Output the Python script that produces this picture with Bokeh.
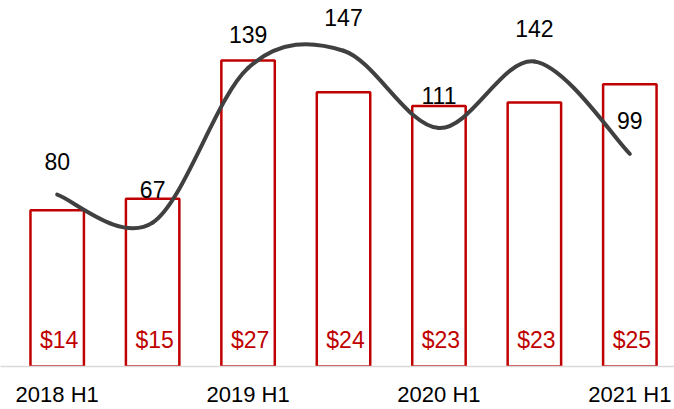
from bokeh.plotting import figure
from bokeh.models import Range1d, FixedTicker, ColumnDataSource
from bokeh.core.properties import value
from bokeh.embed import file_html
from bokeh.resources import INLINE

# ---- data ----
categories = ["2018 H1", "2018 H2", "2019 H1", "2019 H2", "2020 H1", "2020 H2", "2021 H1"]
revenue = [13.8, 14.8, 27.0, 24.2, 23.0, 23.3, 24.9]
count = [80, 67, 139, 147, 111, 142, 99]
shown_ticks = [0, 2, 4, 6]

FONT = "Liberation Sans"
RED = "#C00000"
GREY = "#404040"

xs = list(range(len(categories)))
rev_labels = ["$%.0f" % v for v in revenue]
cnt_labels = [str(v) for v in count]

p = figure(width=674, height=409, output_backend="svg", toolbar_location=None,
           x_range=Range1d(-0.594, 6.468), y_range=Range1d(0, 32.3),
           min_border_left=0, min_border_right=0, min_border_top=0, min_border_bottom=40,
           background_fill_color="white", border_fill_color="white")
p.extra_y_ranges = {"line": Range1d(0, 170.4)}
p.outline_line_color = None
p.xgrid.visible = False
p.ygrid.visible = False
p.yaxis.visible = False

ax = p.xaxis[0]
ax.ticker = FixedTicker(ticks=shown_ticks)
ax.major_label_overrides = {i: categories[i] for i in shown_ticks}
ax.major_tick_line_color = None
ax.minor_tick_line_color = None
ax.axis_line_color = "#d9d9d9"
ax.axis_line_width = 1.5
ax.major_label_text_font = FONT
ax.major_label_text_font_size = "22px"
ax.major_label_text_color = "#000000"
ax.major_label_standoff = 9

bars = ColumnDataSource(dict(x=xs, top=revenue, lab=rev_labels, zero=[0] * len(xs)))
p.vbar(x="x", top="top", width=0.56, source=bars, fill_color="white",
       line_color=RED, line_width=2.5)
p.text(x="x", y="zero", text="lab", source=bars, text_font=value(FONT),
       text_font_size="23px", text_color=RED, text_align="center",
       text_baseline="middle", x_offset=2, y_offset=-27)

# smoothed line (Catmull-Rom style bezier segments through the data points)
n = len(count)
x0, y0, x1, y1, cx0, cy0, cx1, cy1 = [], [], [], [], [], [], [], []
for i in range(n - 1):
    pm = max(i - 1, 0)
    pp = min(i + 2, n - 1)
    x0.append(xs[i]); y0.append(count[i])
    x1.append(xs[i + 1]); y1.append(count[i + 1])
    cx0.append(xs[i] + (xs[i + 1] - xs[pm]) / 6.0)
    cy0.append(count[i] + (count[i + 1] - count[pm]) / 6.0)
    cx1.append(xs[i + 1] - (xs[pp] - xs[i]) / 6.0)
    cy1.append(count[i + 1] - (count[pp] - count[i]) / 6.0)
p.bezier(x0=x0, y0=y0, x1=x1, y1=y1, cx0=cx0, cy0=cy0, cx1=cx1, cy1=cy1,
         line_color=GREY, line_width=4, line_cap="round", y_range_name="line")

pts = ColumnDataSource(dict(x=xs, y=count, lab=cnt_labels))
p.text(x="x", y="y", text="lab", source=pts, y_range_name="line",
       text_font=value(FONT), text_font_size="23px", text_color="#000000",
       text_align="center", text_baseline="middle", y_offset=-33)

open("out.html", "w").write(file_html(p, INLINE))
